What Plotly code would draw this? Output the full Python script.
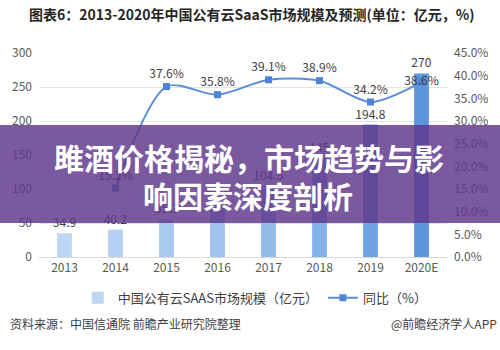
import plotly.graph_objects as go

years = ["2013", "2014", "2015", "2016", "2017", "2018", "2019", "2020E"]
market_size = [34.9, 40.2, 55.3, 75.1, 104.5, 145.2, 194.8, 270]
size_labels = ["34.9", "40.2", "55.3", "75.1", "104.5", "145", "194.8", "270"]
growth = [None, 15.2, 37.6, 35.8, 39.1, 38.9, 34.2, 38.6]
growth_labels = ["", "15.2%", "37.6%", "35.8%", "39.1%", "38.9%", "34.2%", "38.6%"]
left_ticks = [0, 50, 100, 150, 200, 250, 300]
right_ticks = [0, 5, 10, 15, 20, 25, 30, 35, 40, 45]
right_tick_labels = ["0.0%", "5.0%", "10.0%", "15.0%", "20.0%", "25.0%", "30.0%", "35.0%", "40.0%", "45.0%"]

title = "图表6：2013-2020年中国公有云SaaS市场规模及预测(单位：亿元，%)"
bar_name = "中国公有云SAAS市场规模（亿元）"
line_name = "同比（%）"
source = "资料来源：中国信通院 前瞻产业研究院整理"
credit = "@前瞻经济学人APP"
banner_line1 = "雎酒价格揭秘，市场趋势与影"
banner_line2 = "响因素深度剖析"

bar_colors = ["#bdd6f4", "#b5d1f3", "#a9c9f0", "#a0c3ee", "#93bbec", "#84b1e9", "#70a3e4", "#5d96df"]
font_cjk = "Noto Sans CJK SC"

fig = go.Figure()
fig.add_trace(go.Bar(
    x=years, y=market_size, name=bar_name,
    marker=dict(color=bar_colors, line=dict(width=0)),
    width=0.29,
    text=size_labels, textposition="outside", cliponaxis=False,
    constraintext="none",
    textfont=dict(size=12, color="#404040", family=font_cjk),
    legendrank=1,
))
fig.add_trace(go.Scatter(
    x=years, y=growth, name=line_name, yaxis="y2",
    mode="lines+markers+text",
    line=dict(color="#5a8fd8", width=2, shape="spline", smoothing=0.8),
    marker=dict(symbol="square", size=7, color="#4f83d6"),
    text=growth_labels,
    textposition=["top center"] * 7 + ["middle center"],
    textfont=dict(size=12, color="#404040", family=font_cjk),
    cliponaxis=False,
    legendrank=2,
))

fig.update_layout(
    width=500, height=350,
    margin=dict(l=37, r=47, t=53, b=93),
    paper_bgcolor="white", plot_bgcolor="white",
    font=dict(family=font_cjk, size=12, color="#595959"),
    xaxis=dict(
        type="category", showgrid=False, showline=True, linecolor="#d9d9d9",
        ticks="", tickfont=dict(size=12, color="#595959"), fixedrange=True,
    ),
    yaxis=dict(
        range=[0, 300], tickvals=left_ticks, showgrid=True, gridcolor="#e3e3e3",
        zeroline=False, showline=False, tickfont=dict(size=12, color="#595959"),
        ticklabelstandoff=6,
    ),
    yaxis2=dict(
        range=[0, 45], tickvals=right_ticks, ticktext=right_tick_labels,
        overlaying="y", side="right", showgrid=False, zeroline=False,
        tickfont=dict(size=12, color="#595959"), ticklabelstandoff=6,
    ),
    showlegend=True,
    legend=dict(
        orientation="h", x=0.53, xanchor="center", y=-0.2, yanchor="middle",
        font=dict(size=13, color="#404040"), itemwidth=30,
    ),
)

# Title
fig.add_annotation(text="<b>" + title + "</b>", xref="paper", yref="paper",
                   x=-0.03, y=1.19, xanchor="left", yanchor="middle", showarrow=False,
                   font=dict(size=14, color="#262626", family=font_cjk))
# Source and credit
fig.add_annotation(text=source, xref="paper", yref="paper", x=-0.075, y=-0.325,
                   xanchor="left", yanchor="middle", showarrow=False,
                   font=dict(size=12, color="#404040", family=font_cjk))
fig.add_annotation(text=credit, xref="paper", yref="paper", x=1.128, y=-0.325,
                   xanchor="right", yanchor="middle", showarrow=False,
                   font=dict(size=12, color="#404040", family=font_cjk))

# Purple banner overlay
fig.add_shape(type="rect", xref="paper", yref="paper", x0=-0.1, x1=1.15,
              y0=(257 - 223) / 204, y1=(257 - 125) / 204,
              fillcolor="rgba(95,55,140,0.83)", line=dict(width=0), layer="above")
fig.add_annotation(text="<b>" + banner_line1 + "</b>", xref="paper", yref="paper",
                   x=(251 - 37) / 416, y=(257 - 157) / 204, xanchor="center", yanchor="middle",
                   showarrow=False, font=dict(size=30, color="white", family=font_cjk))
fig.add_annotation(text="<b>" + banner_line2 + "</b>", xref="paper", yref="paper",
                   x=(250 - 37) / 416, y=(257 - 195) / 204, xanchor="center", yanchor="middle",
                   showarrow=False, font=dict(size=30, color="white", family=font_cjk))

fig.write_html("out.html")
